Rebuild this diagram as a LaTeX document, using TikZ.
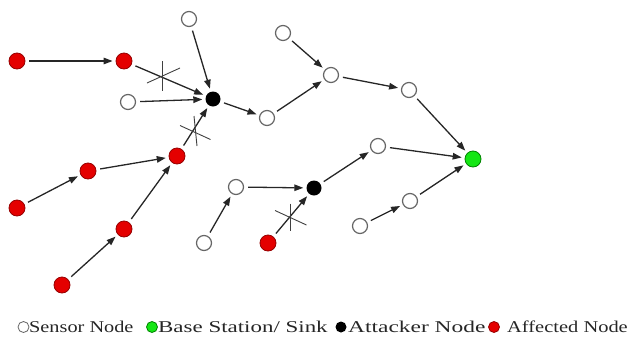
\documentclass[tikz,border=0pt]{standalone}
\usepackage{fontspec}
\setmainfont{Liberation Serif}
\usetikzlibrary{arrows.meta}
\definecolor{nred}{RGB}{228,0,0}
\definecolor{nredb}{RGB}{150,0,0}
\definecolor{ngreen}{RGB}{20,230,20}
\definecolor{ngreenb}{RGB}{0,130,0}
\newcommand\legscale[2]{\scalebox{#1}[1]{#2}}
\tikzset{
  sensor/.style={circle, draw=black!60, fill=white, line width=1.2pt, minimum size=15pt, inner sep=0pt},
  affected/.style={circle, draw=nredb, fill=nred, line width=0.8pt, minimum size=16pt, inner sep=0pt},
  attacker/.style={circle, fill=black, minimum size=15pt, inner sep=0pt},
  sink/.style={circle, draw=ngreenb, fill=ngreen, line width=0.8pt, minimum size=16pt, inner sep=0pt},
  link/.style={-{Triangle[length=9pt,width=6.5pt]}, line width=1.3pt, draw=black!85, shorten <=4pt, shorten >=3pt},
  cut/.style={line width=0.9pt, draw=black!75},
  legdot/.style={minimum size=11pt, line width=0.8pt},
  legtext/.style={anchor=base west, inner sep=0pt, text=black!85, font=\fontsize{16.5}{18}\selectfont},
}
\begin{document}
\begin{tikzpicture}[x=1pt, y=-1pt]
\useasboundingbox (0,0) rectangle (632,338);
% nodes
\node[affected] (r1) at (17,61) {};
\node[affected] (r2) at (124,61) {};
\node[sensor] (w1) at (189,19) {};
\node[sensor] (w2) at (128,102) {};
\node[attacker] (a1) at (213,99) {};
\node[sensor] (w3) at (267,118) {};
\node[sensor] (w4) at (283,33) {};
\node[sensor] (w5) at (331,75) {};
\node[sensor] (w6) at (409,90) {};
\node[sink] (g) at (473,159) {};
\node[sensor] (w7) at (378,146) {};
\node[attacker] (a2) at (314,188) {};
\node[sensor] (w8) at (236,187) {};
\node[sensor] (w9) at (204,243) {};
\node[affected] (r7) at (268,243) {};
\node[sensor] (w10) at (410,201) {};
\node[sensor] (w11) at (360,226) {};
\node[affected] (r3) at (177,156) {};
\node[affected] (r4) at (88,171) {};
\node[affected] (r5) at (17,208) {};
\node[affected] (r6) at (124,229) {};
\node[affected] (r8) at (62,285) {};
% links
\draw[link] (r1) -- (r2);
\draw[link] (r2) -- (a1);
\draw[link] (w1) -- (a1);
\draw[link] (w2) -- (a1);
\draw[link] (r3) -- (a1);
\draw[link] (a1) -- (w3);
\draw[link] (w3) -- (w5);
\draw[link] (w4) -- (w5);
\draw[link] (w5) -- (w6);
\draw[link] (w6) -- (g);
\draw[link] (w7) -- (g);
\draw[link] (w10) -- (g);
\draw[link] (w11) -- (w10);
\draw[link] (a2) -- (w7);
\draw[link] (w8) -- (a2);
\draw[link] (w9) -- (w8);
\draw[link] (r7) -- (a2);
\draw[link] (r5) -- (r4);
\draw[link] (r4) -- (r3);
\draw[link] (r6) -- (r3);
\draw[link] (r8) -- (r6);
% cut marks
\draw[cut] (162,61) -- (162,91);
\draw[cut] (147,83) -- (180,68);
\draw[cut] (180,125.5) -- (210.5,139.5);
\draw[cut] (194,116) -- (197,146);
\draw[cut] (275,210.5) -- (306.5,225);
\draw[cut] (290,203.5) -- (290,231);
% legend
\node[sensor, legdot] (ls) at (23.5,327) {};
\node[legtext] (lst) at (29,332) {\legscale{1.23}{Sensor Node}};
\node[sink, legdot] (lg) at (152,327) {};
\node[legtext] (lgt) at (158,332) {\legscale{1.39}{Base Station/ Sink}};
\node[attacker, legdot] (la) at (341,327) {};
\node[legtext] (lat) at (348,332) {\legscale{1.42}{Attacker Node}};
\node[affected, legdot] (lr) at (494,327) {};
\node[legtext] (lrt) at (507,332) {\legscale{1.24}{Affected Node}};
\end{tikzpicture}
\end{document}
